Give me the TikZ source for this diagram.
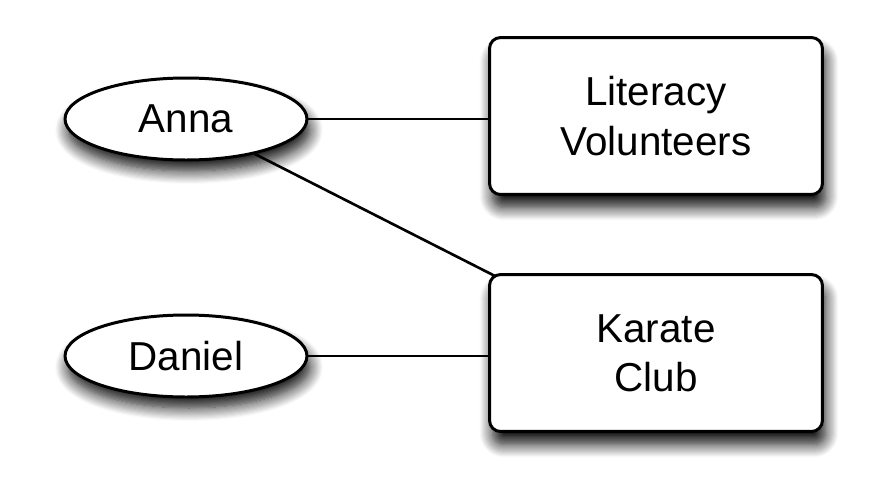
\documentclass[tikz,border=0pt]{standalone}
\usepackage{fontspec}
\setmainfont{Liberation Sans}
\usetikzlibrary{shapes.geometric, shadows.blur}

\begin{document}
\begin{tikzpicture}[x=0.02cm, y=-0.02cm,
  person/.style={ellipse, draw=black, line width=1.7pt, fill=white, minimum width=4.84cm, minimum height=1.64cm, inner sep=0pt,
    blur shadow={shadow xshift=0.06cm, shadow yshift=-0.22cm, shadow blur steps=12, shadow blur radius=0.26cm, shadow opacity=95}},
  group/.style={rectangle, rounded corners=0.22cm, draw=black, line width=1.7pt, fill=white, minimum width=6.66cm, minimum height=3.14cm, inner sep=0pt, align=center,
    blur shadow={shadow xshift=0.06cm, shadow yshift=-0.26cm, shadow blur steps=12, shadow blur radius=0.26cm, shadow opacity=95}},
  tie/.style={line width=1.5pt}]
\useasboundingbox (0,0) rectangle (886,484);
\fontsize{23}{28}\selectfont
%ellipses:
\node[person] (anna) at (186,119) {Anna};
\node[person] (daniel) at (186,356) {Daniel};
%boxes:
\node[group] (literacy) at (656,116) {Literacy\\Volunteers};
\node[group] (karate) at (656,353) {Karate\\Club};
%lines:
\draw[tie] (anna.east) -- (anna.east -| literacy.west);
\draw[tie] (daniel.east) -- (daniel.east -| karate.west);
\draw[tie] (anna) -- ([xshift=0.14cm,yshift=-0.06cm]karate.north west);
\end{tikzpicture}
\end{document}
